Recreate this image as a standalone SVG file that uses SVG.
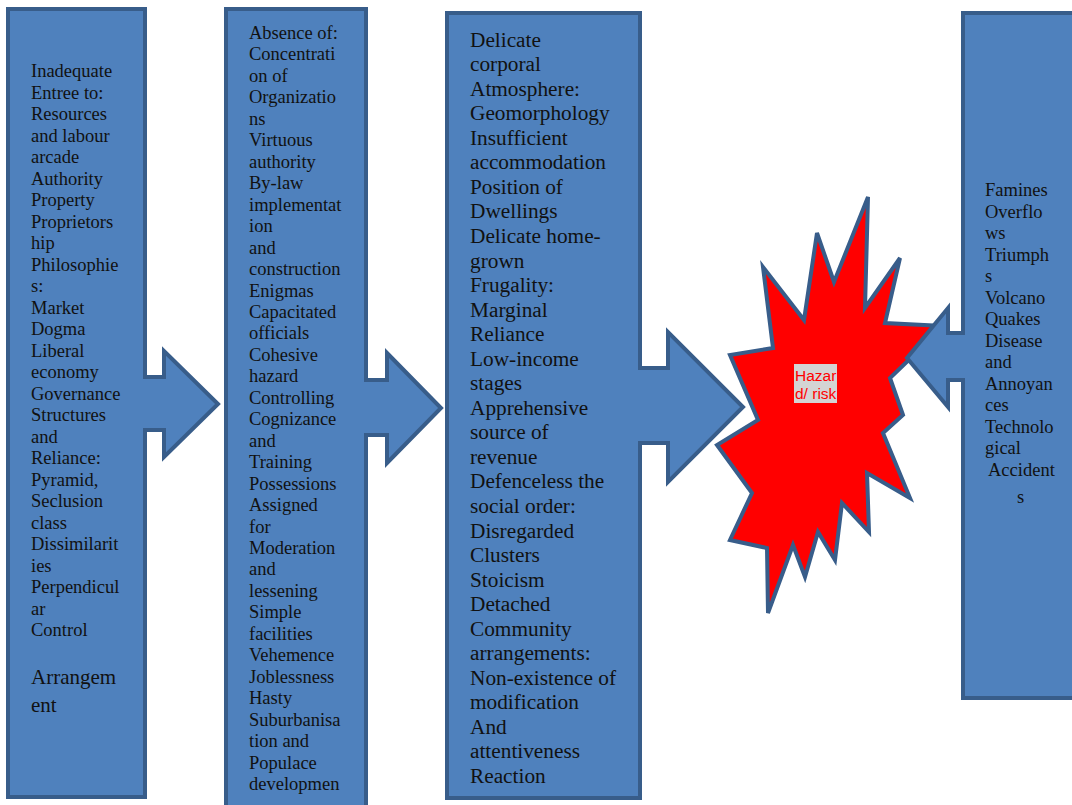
<svg xmlns="http://www.w3.org/2000/svg" width="1072" height="805" viewBox="0 0 1072 805">
  <style>
    .blk { fill: #4F81BD; stroke: #385D8A; stroke-width: 4; stroke-linejoin: miter; }
    .txt { font-family: "Liberation Serif", "Times New Roman", serif; font-size: 18.5px; fill: #111; }
    .big { font-size: 21.3px; }
    .lbl { font-family: "Liberation Sans", Arial, sans-serif; font-size: 15.5px; fill: #FF0000; }
  </style>
  <rect width="1072" height="805" fill="#ffffff"/>

  <!-- Column 1: root causes -->
  <g id="root-causes">
    <path class="blk" d="M8,9 H145 V377 H164 V351 L218,404 L164,457 V430 H145 V797 H8 Z"/>
    <text class="txt">
      <tspan x="31" y="77">Inadequate</tspan>
      <tspan x="31" dy="21.5">Entree to:</tspan>
      <tspan x="31" dy="21.5">Resources</tspan>
      <tspan x="31" dy="21.5">and labour</tspan>
      <tspan x="31" dy="21.5">arcade</tspan>
      <tspan x="31" dy="21.5">Authority</tspan>
      <tspan x="31" dy="21.5">Property</tspan>
      <tspan x="31" dy="21.5">Proprietors</tspan>
      <tspan x="31" dy="21.5">hip</tspan>
      <tspan x="31" dy="21.5">Philosophie</tspan>
      <tspan x="31" dy="21.5">s:</tspan>
      <tspan x="31" dy="21.5">Market</tspan>
      <tspan x="31" dy="21.5">Dogma</tspan>
      <tspan x="31" dy="21.5">Liberal</tspan>
      <tspan x="31" dy="21.5">economy</tspan>
      <tspan x="31" dy="21.5">Governance</tspan>
      <tspan x="31" dy="21.5">Structures</tspan>
      <tspan x="31" dy="21.5">and</tspan>
      <tspan x="31" dy="21.5">Reliance:</tspan>
      <tspan x="31" dy="21.5">Pyramid,</tspan>
      <tspan x="31" dy="21.5">Seclusion</tspan>
      <tspan x="31" dy="21.5">class</tspan>
      <tspan x="31" dy="21.5">Dissimilarit</tspan>
      <tspan x="31" dy="21.5">ies</tspan>
      <tspan x="31" dy="21.5">Perpendicul</tspan>
      <tspan x="31" dy="21.5">ar</tspan>
      <tspan x="31" dy="21.5">Control</tspan>
    </text>
    <text class="txt" style="font-size:21px">
      <tspan x="31" y="684">Arrangem</tspan>
      <tspan x="31" dy="28">ent</tspan>
    </text>
  </g>

  <!-- Column 2: dynamic pressures -->
  <g id="dynamic-pressures">
    <path class="blk" d="M226,9 H366 V380 H387 V353 L441,408 L387,463 V435 H366 V812 H226 Z"/>
    <text class="txt">
      <tspan x="249" y="39">Absence of:</tspan>
      <tspan x="249" dy="21.46">Concentrati</tspan>
      <tspan x="249" dy="21.46">on of</tspan>
      <tspan x="249" dy="21.46">Organizatio</tspan>
      <tspan x="249" dy="21.46">ns</tspan>
      <tspan x="249" dy="21.46">Virtuous</tspan>
      <tspan x="249" dy="21.46">authority</tspan>
      <tspan x="249" dy="21.46">By-law</tspan>
      <tspan x="249" dy="21.46">implementat</tspan>
      <tspan x="249" dy="21.46">ion</tspan>
      <tspan x="249" dy="21.46">and</tspan>
      <tspan x="249" dy="21.46">construction</tspan>
      <tspan x="249" dy="21.46">Enigmas</tspan>
      <tspan x="249" dy="21.46">Capacitated</tspan>
      <tspan x="249" dy="21.46">officials</tspan>
      <tspan x="249" dy="21.46">Cohesive</tspan>
      <tspan x="249" dy="21.46">hazard</tspan>
      <tspan x="249" dy="21.46">Controlling</tspan>
      <tspan x="249" dy="21.46">Cognizance</tspan>
      <tspan x="249" dy="21.46">and</tspan>
      <tspan x="249" dy="21.46">Training</tspan>
      <tspan x="249" dy="21.46">Possessions</tspan>
      <tspan x="249" dy="21.46">Assigned</tspan>
      <tspan x="249" dy="21.46">for</tspan>
      <tspan x="249" dy="21.46">Moderation</tspan>
      <tspan x="249" dy="21.46">and</tspan>
      <tspan x="249" dy="21.46">lessening</tspan>
      <tspan x="249" dy="21.46">Simple</tspan>
      <tspan x="249" dy="21.46">facilities</tspan>
      <tspan x="249" dy="21.46">Vehemence</tspan>
      <tspan x="249" dy="21.46">Joblessness</tspan>
      <tspan x="249" dy="21.46">Hasty</tspan>
      <tspan x="249" dy="21.46">Suburbanisa</tspan>
      <tspan x="249" dy="21.46">tion and</tspan>
      <tspan x="249" dy="21.46">Populace</tspan>
      <tspan x="249" dy="21.46">developmen</tspan>
    </text>
  </g>

  <!-- Column 3: unsafe conditions -->
  <g id="unsafe-conditions">
    <path class="blk" d="M447,13 H640 V368 H668 V332 L743,407 L668,482 V443 H640 V798 H447 Z"/>
    <text class="txt big">
      <tspan x="470" y="46.7">Delicate</tspan>
      <tspan x="470" dy="24.54">corporal</tspan>
      <tspan x="470" dy="24.54">Atmosphere:</tspan>
      <tspan x="470" dy="24.54">Geomorphology</tspan>
      <tspan x="470" dy="24.54">Insufficient</tspan>
      <tspan x="470" dy="24.54">accommodation</tspan>
      <tspan x="470" dy="24.54">Position of</tspan>
      <tspan x="470" dy="24.54">Dwellings</tspan>
      <tspan x="470" dy="24.54">Delicate home-</tspan>
      <tspan x="470" dy="24.54">grown</tspan>
      <tspan x="470" dy="24.54">Frugality:</tspan>
      <tspan x="470" dy="24.54">Marginal</tspan>
      <tspan x="470" dy="24.54">Reliance</tspan>
      <tspan x="470" dy="24.54">Low-income</tspan>
      <tspan x="470" dy="24.54">stages</tspan>
      <tspan x="470" dy="24.54">Apprehensive</tspan>
      <tspan x="470" dy="24.54">source of</tspan>
      <tspan x="470" dy="24.54">revenue</tspan>
      <tspan x="470" dy="24.54">Defenceless the</tspan>
      <tspan x="470" dy="24.54">social order:</tspan>
      <tspan x="470" dy="24.54">Disregarded</tspan>
      <tspan x="470" dy="24.54">Clusters</tspan>
      <tspan x="470" dy="24.54">Stoicism</tspan>
      <tspan x="470" dy="24.54">Detached</tspan>
      <tspan x="470" dy="24.54">Community</tspan>
      <tspan x="470" dy="24.54">arrangements:</tspan>
      <tspan x="470" dy="24.54">Non-existence of</tspan>
      <tspan x="470" dy="24.54">modification</tspan>
      <tspan x="470" dy="24.54">And</tspan>
      <tspan x="470" dy="24.54">attentiveness</tspan>
      <tspan x="470" dy="24.54">Reaction</tspan>
    </text>
  </g>

  <!-- Central burst: hazard / risk -->
  <g id="hazard-risk">
    <polygon fill="#FF0000" stroke="#385D8A" stroke-width="4" stroke-linejoin="miter"
      points="868,197 865,308 900,258 885,323 944,326 890,378 903,415 883,433 910,498 867,473 869,532 842,503 835,560 818,532 805,577 793,545 768,613 767,548 730,540 752,493 717,445 758,420 730,355 773,348 763,267 804,320 817,233 834,282"/>
    <rect x="794" y="364" width="43" height="39" fill="#D4D4D4"/>
    <text class="lbl">
      <tspan x="795" y="381">Hazar</tspan>
      <tspan x="795" dy="18">d/ risk</tspan>
    </text>
  </g>

  <!-- Column 4: hazards, pointing back at the burst -->
  <g id="hazards">
    <path class="blk" d="M963,13 H1080 V698 H963 V380 H948 V407 L907,358 L948,308 V333 H963 Z"/>
    <text class="txt">
      <tspan x="985" y="196">Famines</tspan>
      <tspan x="985" dy="21.5">Overflo</tspan>
      <tspan x="985" dy="21.5">ws</tspan>
      <tspan x="985" dy="21.5">Triumph</tspan>
      <tspan x="985" dy="21.5">s</tspan>
      <tspan x="985" dy="21.5">Volcano</tspan>
      <tspan x="985" dy="21.5">Quakes</tspan>
      <tspan x="985" dy="21.5">Disease</tspan>
      <tspan x="985" dy="21.5">and</tspan>
      <tspan x="985" dy="21.5">Annoyan</tspan>
      <tspan x="985" dy="21.5">ces</tspan>
      <tspan x="985" dy="21.5">Technolo</tspan>
      <tspan x="985" dy="21.5">gical</tspan>
      <tspan x="988" dy="21.5">Accident</tspan>
      <tspan x="1017" dy="27">s</tspan>
    </text>
  </g>

  <!-- Block arrows are part of each column outline -->
  <g id="connectors"></g>
</svg>
